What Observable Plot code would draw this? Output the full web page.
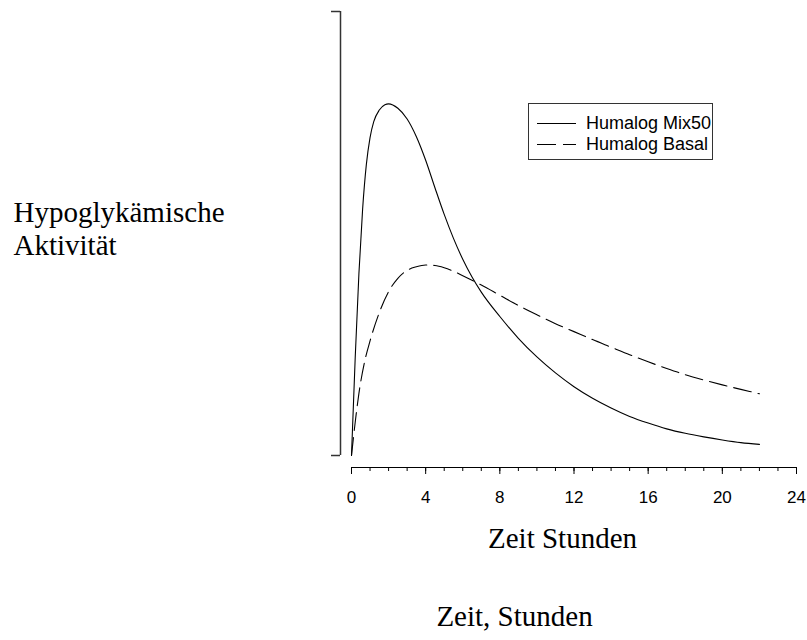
<!DOCTYPE html>
<html>
<head>
<meta charset="utf-8">
<script src="https://cdn.jsdelivr.net/npm/d3@7"></script>
<script src="https://cdn.jsdelivr.net/npm/@observablehq/plot@0.6"></script>
<style>
  body { margin: 0; background: #fff; }
  #wrap { position: relative; width: 807px; height: 640px; }
  #legend { position: absolute; left: 528px; top: 103px; width: 185px; height: 57px;
            border: 1px solid #333; box-sizing: border-box; background: #fff;
            font-family: "Liberation Sans", Arial, sans-serif; font-size: 18px; color: #000; }
  .lrow { position: absolute; left: 0; height: 20px; width: 200px; }
  .lsym { position: absolute; left: 8px; top: 9px; width: 39px; height: 0; }
  .ltxt { position: absolute; left: 57px; top: -1px; white-space: nowrap; line-height: 20px; }
</style>
</head>
<body>
<div id="wrap"></div>
<script>
// ---- data ----
const seriesNames = ["Humalog Mix50", "Humalog Basal"];

const mixHours  = [0, 0.2, 0.4, 0.6, 0.8, 1.0, 1.2, 1.5, 1.8, 2.0, 2.5, 3.0, 3.5, 4.0, 4.5, 5.0, 5.5, 6.0, 6.5, 7.0, 8.0, 9.0, 10.0, 11.0, 12.0, 13.0, 14.0, 15.0, 16.0, 17.0, 18.0, 19.0, 20.0, 21.0, 22.0];
const mixValues = [0, 0.22, 0.41, 0.555, 0.655, 0.716, 0.752, 0.778, 0.790, 0.792, 0.782, 0.758, 0.718, 0.665, 0.603, 0.543, 0.489, 0.442, 0.402, 0.368, 0.313, 0.264, 0.222, 0.186, 0.155, 0.129, 0.107, 0.088, 0.073, 0.060, 0.050, 0.042, 0.035, 0.029, 0.025];

const basalHours  = [0, 0.2, 0.4, 0.7, 1.0, 1.5, 2.0, 2.5, 3.0, 3.5, 4.0, 4.5, 5.0, 5.5, 6.0, 7.0, 8.0, 9.0, 10.0, 11.0, 12.0, 13.0, 14.0, 15.0, 16.0, 17.0, 18.0, 19.0, 20.0, 21.0, 22.0];
const basalValues = [0, 0.075, 0.14, 0.21, 0.258, 0.322, 0.369, 0.399, 0.417, 0.425, 0.429, 0.428, 0.423, 0.415, 0.405, 0.384, 0.361, 0.338, 0.317, 0.297, 0.279, 0.261, 0.244, 0.227, 0.211, 0.196, 0.182, 0.170, 0.159, 0.149, 0.139];

const xMajorTicks = [0, 4, 8, 12, 16, 20, 24];
const xMinorTicks = [0,1,2,3,4,5,6,7,8,9,10,11,12,13,14,15,16,17,18,19,20,21,22,23,24];
const yEnds = [0, 1];

const yTitle = "Hypoglykämische\nAktivität";
const xTitle = "Zeit Stunden";
const caption = "Zeit, Stunden";

// ---- tables ----
const mixRows = mixHours.map((t, i) => ({t, v: mixValues[i]}));
const basalRows = basalHours.map((t, i) => ({t, v: basalValues[i]}));

const serif = "'Liberation Serif', 'Times New Roman', serif";
const sans = "'Liberation Sans', Arial, sans-serif";

const chart = Plot.plot({
  width: 807,
  height: 640,
  marginLeft: 351,
  marginRight: 11,
  marginTop: 11,
  marginBottom: 185,
  x: {domain: [xMajorTicks[0], xMajorTicks[xMajorTicks.length - 1]], label: null},
  y: {domain: yEnds, label: null},
  style: {background: "white", color: "black", fontFamily: sans},
  marks: [
    // x axis line
    Plot.ruleY([{y: 0, a: xMajorTicks[0], b: xMajorTicks[xMajorTicks.length - 1]}],
      {y: "y", x1: "a", x2: "b", dy: 12, stroke: "#000", strokeWidth: 1}),
    Plot.axisX(xMinorTicks, {tickSize: 4, tickFormat: () => "", dy: 12, label: null, stroke: "#000"}),
    Plot.axisX(xMajorTicks, {tickSize: 7, tickPadding: 16, fontSize: 17, dy: 12, label: null,
      stroke: "#000", fontFamily: sans}),
    // y axis bracket
    Plot.ruleX([{x: 0, a: yEnds[0], b: yEnds[1]}], {x: "x", y1: "a", y2: "b", dx: -11, stroke: "#333", strokeWidth: 1.5}),
    Plot.axisY(yEnds, {tickSize: 9, tickFormat: () => "", dx: -11, label: null, stroke: "#333", strokeWidth: 1.5}),
    // curves
    Plot.line(mixRows, {x: "t", y: "v", stroke: "#000", strokeWidth: 1.1, curve: "monotone-x"}),
    Plot.line(basalRows, {x: "t", y: "v", stroke: "#000", strokeWidth: 1.1, curve: "monotone-x",
      strokeDasharray: "18,7"}),
    // titles
    Plot.text([yTitle], {text: d => d, frameAnchor: "left", textAnchor: "start", dx: -338, dy: -6,
      fontSize: 29, lineHeight: 1.14, fontFamily: serif, fill: "#000"}),
    Plot.text([xTitle], {text: d => d, frameAnchor: "bottom", dx: -11.5, dy: 92.7,
      fontSize: 29, fontFamily: serif, fill: "#000"}),
    Plot.text([caption], {text: d => d, frameAnchor: "bottom", dx: -59.5, dy: 170.7,
      fontSize: 29, fontFamily: serif, fill: "#000"})
  ]
});

const wrap = document.getElementById("wrap");
wrap.appendChild(chart);

// legend
const legend = document.createElement("div");
legend.id = "legend";
seriesNames.forEach((name, i) => {
  const row = document.createElement("div");
  row.className = "lrow";
  row.style.top = (10 + i * 21) + "px";
  if (i === 0) {
    const s = document.createElement("div");
    s.className = "lsym";
    s.style.borderTop = "1px solid #000";
    row.appendChild(s);
  } else {
    [0, 26].forEach(off => {
      const s = document.createElement("div");
      s.className = "lsym";
      s.style.left = (8 + off) + "px";
      s.style.width = (off === 0 ? 19 : 13) + "px";
      s.style.borderTop = "1px solid #000";
      row.appendChild(s);
    });
  }
  const t = document.createElement("span");
  t.className = "ltxt";
  t.textContent = name;
  row.appendChild(t);
  legend.appendChild(row);
});
wrap.appendChild(legend);
</script>
</body>
</html>
